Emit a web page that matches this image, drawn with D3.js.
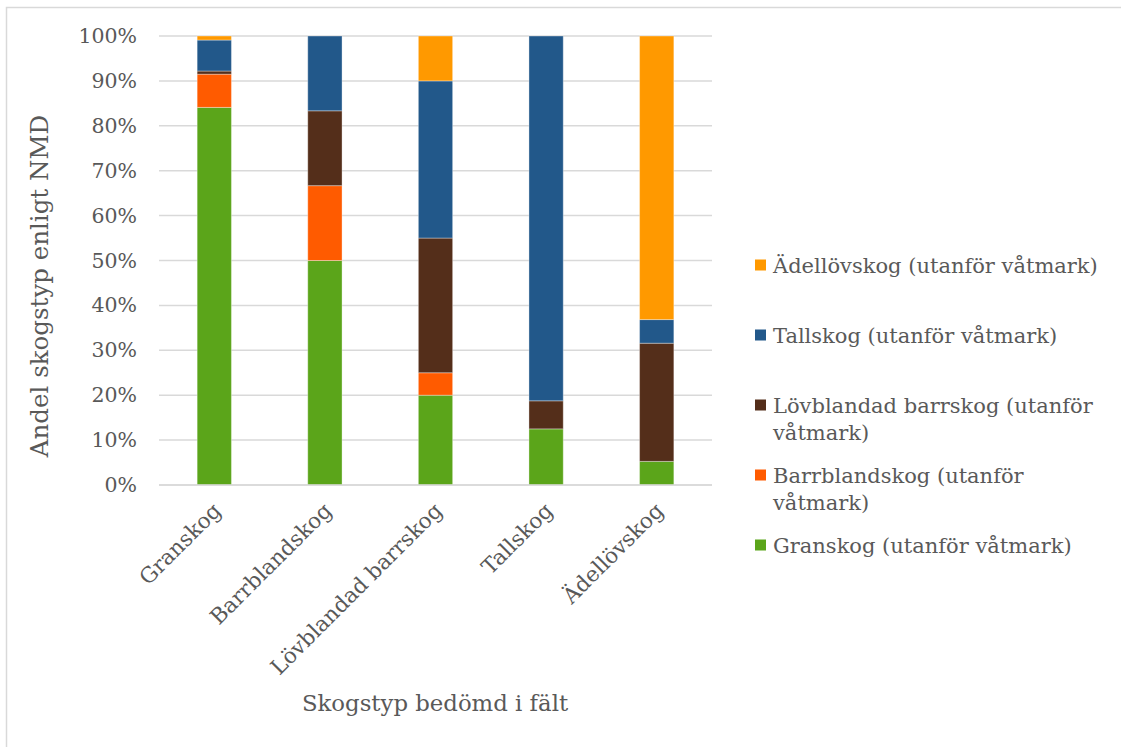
<!DOCTYPE html>
<html>
<head>
<meta charset="utf-8">
<script src="https://cdn.jsdelivr.net/npm/d3@7"></script>
<style>
  html, body { margin: 0; padding: 0; background: #fff; }
  svg { display: block; }
  text { font-family: "DejaVu Serif", "Liberation Serif", serif; fill: #595959; }
</style>
</head>
<body>
<svg id="chart" width="1121" height="747"></svg>
<script>
// Field-assessed forest type (x) vs. share of NMD forest type (stacked, %)
const categories = ["Granskog", "Barrblandskog", "Lövblandad barrskog", "Tallskog", "Ädellövskog"];

const seriesNames = [
  "Granskog (utanför våtmark)",
  "Barrblandskog (utanför våtmark)",
  "Lövblandad barrskog (utanför våtmark)",
  "Tallskog (utanför våtmark)",
  "Ädellövskog (utanför våtmark)"
];

// Shares per field category, in percent (bottom to top of each stack)
const granskogNMD     = [84.1, 50.0, 20.0, 12.5, 5.26];
const barrblandNMD    = [7.4, 16.67, 5.0, 0.0, 0.0];
const lovblandadNMD   = [0.7, 16.67, 30.0, 6.25, 26.32];
const tallskogNMD     = [6.9, 16.66, 35.0, 81.25, 5.26];
const adellovskogNMD  = [0.9, 0.0, 10.0, 0.0, 63.16];

const yTicks = [0, 10, 20, 30, 40, 50, 60, 70, 80, 90, 100];
const colors = ["#5BA51A", "#FF5B00", "#542E1A", "#22588A", "#FF9900"];

const seriesValues = [granskogNMD, barrblandNMD, lovblandadNMD, tallskogNMD, adellovskogNMD];
const rows = categories.map((c, i) => {
  const r = { category: c };
  seriesNames.forEach((s, j) => { r[s] = seriesValues[j][i]; });
  return r;
});

const svg = d3.select("#chart");

// chart frame
svg.append("rect")
  .attr("x", 6.5).attr("y", 7.5)
  .attr("width", 1130).attr("height", 760)
  .attr("fill", "none").attr("stroke", "#d9d9d9").attr("stroke-width", 1.5);

const plot = { left: 159, right: 712, top: 36, bottom: 485 };

const x = d3.scaleBand()
  .domain(categories)
  .range([plot.left, plot.right])
  .paddingInner(0.69)
  .paddingOuter(0.345);

const y = d3.scaleLinear().domain([0, 100]).range([plot.bottom, plot.top]);

// gridlines
svg.append("g")
  .selectAll("line")
  .data(yTicks)
  .join("line")
  .attr("x1", plot.left).attr("x2", plot.right)
  .attr("y1", d => y(d)).attr("y2", d => y(d))
  .attr("stroke", "#d9d9d9").attr("stroke-width", 1.5);

// y axis labels
const yAxis = d3.axisLeft(y).tickValues(yTicks).tickFormat(d => d + "%").tickSize(0).tickPadding(22);
const gy = svg.append("g").attr("transform", `translate(${plot.left},0)`).call(yAxis);
gy.select(".domain").remove();
gy.selectAll("text").attr("font-size", 20.5).attr("fill", "#595959")
  .style("font-family", '"DejaVu Serif", serif');

// stacked bars
const stack = d3.stack().keys(seriesNames);
const layers = stack(rows);

svg.append("g")
  .selectAll("g")
  .data(layers)
  .join("g")
  .attr("fill", (d, i) => colors[i])
  .selectAll("rect")
  .data(d => d.filter(p => p[1] - p[0] > 0))
  .join("rect")
  .attr("x", d => x(d.data.category))
  .attr("width", x.bandwidth())
  .attr("y", d => y(d[1]))
  .attr("height", d => y(d[0]) - y(d[1]))
  .attr("stroke", "rgba(255,255,255,0.35)")
  .attr("stroke-width", 1);

// category axis line
svg.append("line")
  .attr("x1", plot.left).attr("x2", plot.right)
  .attr("y1", plot.bottom).attr("y2", plot.bottom)
  .attr("stroke", "#d9d9d9").attr("stroke-width", 1.5);

// rotated category labels
svg.append("g")
  .selectAll("text")
  .data(categories)
  .join("text")
  .attr("transform", d => `translate(${x(d) + x.bandwidth() / 2 + 8},${plot.bottom + 27}) rotate(-45)`)
  .attr("text-anchor", "end")
  .attr("font-size", 21.5)
  .text(d => d);

// axis titles
svg.append("text")
  .attr("transform", `translate(48,286) rotate(-90)`)
  .attr("text-anchor", "middle")
  .attr("font-size", 24.5)
  .text("Andel skogstyp enligt NMD");

svg.append("text")
  .attr("x", 435).attr("y", 711)
  .attr("text-anchor", "middle")
  .attr("font-size", 22.8)
  .text("Skogstyp bedömd i fält");

// legend (top to bottom: last series first)
const legendItems = [
  { name: seriesNames[4], color: colors[4], lines: ["Ädellövskog (utanför våtmark)"], cy: 265 },
  { name: seriesNames[3], color: colors[3], lines: ["Tallskog (utanför våtmark)"], cy: 335 },
  { name: seriesNames[2], color: colors[2], lines: ["Lövblandad barrskog (utanför", "våtmark)"], cy: 405 },
  { name: seriesNames[1], color: colors[1], lines: ["Barrblandskog (utanför", "våtmark)"], cy: 475 },
  { name: seriesNames[0], color: colors[0], lines: ["Granskog (utanför våtmark)"], cy: 545 }
];

const lg = svg.append("g").selectAll("g").data(legendItems).join("g");
lg.append("rect")
  .attr("x", 755).attr("y", d => d.cy - 5.5)
  .attr("width", 11).attr("height", 11)
  .attr("fill", d => d.color);
lg.append("text")
  .attr("x", 773)
  .attr("font-size", 21)
  .selectAll("tspan")
  .data(d => d.lines.map((l, i) => ({ l, i, cy: d.cy })))
  .join("tspan")
  .attr("x", 773)
  .attr("y", d => d.cy + 7.5 + d.i * 27)
  .text(d => d.l);
</script>
</body>
</html>
